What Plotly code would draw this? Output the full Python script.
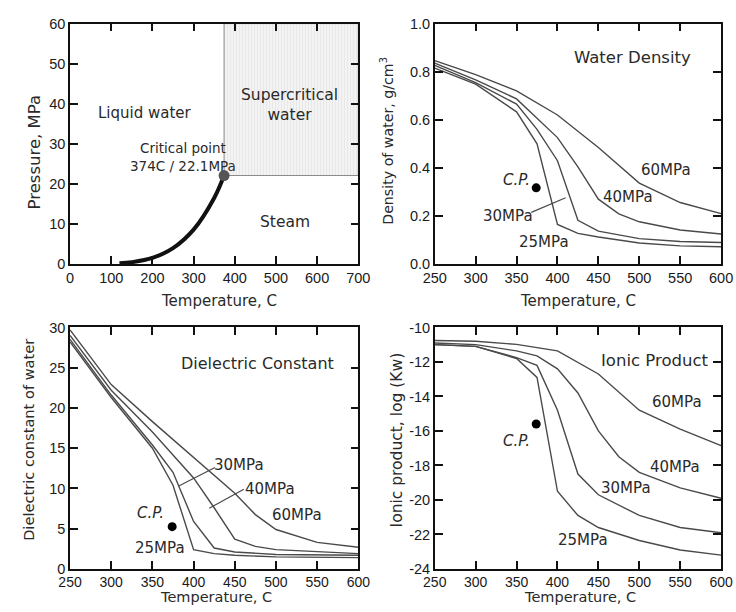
import plotly.graph_objects as go

# ---------------- data ----------------
# Phase diagram: saturation curve
sat_T = [120, 150, 200, 250, 300, 350, 374]
sat_P = [0.2, 0.48, 1.55, 3.98, 8.6, 16.5, 22.1]
CP_T, CP_P = 374, 22.1
T_MAX, P_MAX = 700, 60

# Water density (g/cm3)
dens_T = {
    "25MPa": [250, 300, 350, 375, 400, 425, 450, 500, 550, 600],
    "30MPa": [250, 300, 350, 375, 400, 425, 450, 500, 550, 600],
    "40MPa": [250, 300, 350, 400, 425, 450, 475, 500, 550, 600],
    "60MPa": [250, 300, 350, 400, 450, 500, 550, 600],
}
dens_V = {
    "25MPa": [0.815, 0.748, 0.633, 0.50, 0.165, 0.128, 0.113, 0.088, 0.076, 0.072],
    "30MPa": [0.826, 0.755, 0.665, 0.56, 0.43, 0.182, 0.137, 0.106, 0.094, 0.090],
    "40MPa": [0.836, 0.766, 0.687, 0.526, 0.404, 0.27, 0.209, 0.176, 0.142, 0.125],
    "60MPa": [0.846, 0.788, 0.72, 0.62, 0.485, 0.337, 0.256, 0.21],
}
dens_CP = (374, 0.317)

# Dielectric constant
diel_T = {
    "25MPa": [250, 300, 350, 375, 400, 425, 450, 500, 600],
    "30MPa": [250, 300, 350, 375, 400, 425, 450, 500, 600],
    "40MPa": [250, 300, 350, 375, 400, 425, 450, 475, 500, 600],
    "60MPa": [250, 300, 350, 400, 450, 475, 500, 550, 600],
}
diel_V = {
    "25MPa": [28.2, 21.3, 15.0, 10.4, 2.4, 1.9, 1.7, 1.5, 1.4],
    "30MPa": [28.5, 21.6, 15.4, 12.0, 5.9, 2.6, 2.1, 1.8, 1.7],
    "40MPa": [29.0, 22.2, 17.0, 14.2, 11.3, 7.6, 3.7, 2.8, 2.4, 1.9],
    "60MPa": [29.7, 22.9, 18.3, 13.8, 9.4, 6.75, 4.9, 3.3, 2.7],
}
diel_CP = (374, 5.25)

# Ionic product log(Kw)
ion_T = {
    "25MPa": [250, 300, 350, 375, 400, 425, 450, 500, 550, 600],
    "30MPa": [250, 300, 350, 375, 400, 425, 450, 500, 550, 600],
    "40MPa": [250, 300, 350, 375, 400, 425, 450, 475, 500, 550, 600],
    "60MPa": [250, 300, 350, 400, 450, 500, 550, 600],
}
ion_V = {
    "25MPa": [-11.0, -11.1, -11.8, -12.9, -19.5, -20.9, -21.6, -22.35, -22.9, -23.2],
    "30MPa": [-11.0, -11.1, -11.75, -12.2, -14.8, -18.5, -19.7, -20.9, -21.6, -21.9],
    "40MPa": [-10.9, -11.0, -11.36, -11.65, -12.4, -13.8, -16.0, -17.5, -18.4, -19.3, -19.9],
    "60MPa": [-10.76, -10.8, -10.98, -11.36, -12.7, -14.8, -15.9, -16.85],
}
ion_CP = (374, -15.6)

# tick labels
ion_tickvals = [-24, -22, -20, -18, -16, -14, -12, -10]
ion_ticktext = ["-24", "-22", "-20", "-18", "-16", "-14", "-12", "-10"]

TICKFONT = "Liberation Sans, Arial, sans-serif"
FONT = "DejaVu Sans, sans-serif"
TXT = "#2a2a2a"
LINE = "#4a4a4a"

fig = go.Figure()

# ---- panel 1: phase diagram ----
fig.add_trace(go.Scatter(
    x=[CP_T, T_MAX, T_MAX, CP_T, CP_T], y=[CP_P, CP_P, P_MAX, P_MAX, CP_P],
    mode="lines", fill="toself", line=dict(color="#8a8a8a", width=1),
    fillcolor="#f3f3f3",
    fillpattern=dict(shape="|", fgcolor="#d4d4d4", bgcolor="#f3f3f3", size=3, solidity=0.25),
    xaxis="x", yaxis="y", showlegend=False, hoverinfo="skip"))
fig.add_trace(go.Scatter(x=sat_T, y=sat_P, mode="lines", line=dict(color="#111", width=4, shape="spline"),
                         xaxis="x", yaxis="y", showlegend=False))
fig.add_trace(go.Scatter(x=[CP_T], y=[CP_P], mode="markers", marker=dict(color="#555", size=11),
                         xaxis="x", yaxis="y", showlegend=False))

# ---- panels 2-4 ----
for (Tdict, Vdict, cp, xa, ya) in [(dens_T, dens_V, dens_CP, "x2", "y2"),
                                   (diel_T, diel_V, diel_CP, "x3", "y3"),
                                   (ion_T, ion_V, ion_CP, "x4", "y4")]:
    for k in Tdict:
        fig.add_trace(go.Scatter(x=Tdict[k], y=Vdict[k], mode="lines", name=k,
                                 line=dict(color=LINE, width=1.4),
                                 xaxis=xa, yaxis=ya, showlegend=False))
    fig.add_trace(go.Scatter(x=[cp[0]], y=[cp[1]], mode="markers", marker=dict(color="#000", size=9),
                             xaxis=xa, yaxis=ya, showlegend=False))

def ax(domain, rng, dtick, anchor, fmt=None, fs=14.5):
    d = dict(domain=domain, range=rng, dtick=dtick, tick0=rng[0], anchor=anchor,
             showgrid=False, zeroline=False, showline=True, linecolor="#111", linewidth=1.5,
             mirror="ticks", ticks="inside", ticklen=8, tickwidth=1.5, tickcolor="#111",
             tickfont=dict(family=TICKFONT, size=fs, color="#1a1a1a"))
    if fmt:
        d["tickformat"] = fmt
    return d

XL = [60/736, 358/736]
XR = [437/736, 733/736]
YT = [1-263/612, 1-16/612]
YB = [1-576/612, 1-328/612]

y4 = ax(YB, [-24, -10], 2, "x4")
y4.update(tickmode="array", tickvals=ion_tickvals, ticktext=ion_ticktext)

fig.update_layout(
    width=736, height=612, margin=dict(l=0, r=0, t=0, b=0),
    paper_bgcolor="white", plot_bgcolor="white",
    font=dict(family=FONT, size=14, color=TXT),
    xaxis=ax(XL, [0, 700], 100, "y"),
    yaxis=ax(YT, [0, 60], 10, "x"),
    xaxis2=ax(XR, [250, 600], 50, "y2"),
    yaxis2=ax(YT, [0, 1.0], 0.2, "x2", ".1f"),
    xaxis3=ax(XL, [250, 600], 50, "y3", fs=14),
    yaxis3=ax(YB, [0, 30], 5, "x3"),
    xaxis4=ax(XR, [250, 600], 50, "y4", fs=14),
    yaxis4=y4,
)

ann = []
def t(x, y, s, xr, yr, italic=False, size=15):
    if italic:
        s = "<i>" + s + "</i>"
    ann.append(dict(x=x, y=y, xref=xr, yref=yr, text=s, showarrow=False,
                    font=dict(family=FONT, size=size, color=TXT)))

shapes = []
def leader(x0, y0, x1, y1, xr, yr):
    shapes.append(dict(type="line", x0=x0, y0=y0, x1=x1, y1=y1, xref=xr, yref=yr,
                       line=dict(color=LINE, width=1.2)))

# panel 1
t(183, 37.7, "Liquid water", "x", "y")
t(533, 39.6, "Supercritical<br>water", "x", "y", size=15.5)
t(275, 26.7, "Critical point<br>374C / 22.1MPa", "x", "y", size=13.5)
t(521, 10.4, "Steam", "x", "y", size=15.5)
# panel 2
t(492, 0.86, "Water Density", "x2", "y2", size=16.5)
t(350, 0.35, "C.P.", "x2", "y2", italic=True)
t(339, 0.20, "30MPa", "x2", "y2")
t(384, 0.09, "25MPa", "x2", "y2")
t(486, 0.28, "40MPa", "x2", "y2")
t(533, 0.39, "60MPa", "x2", "y2")
leader(410, 0.276, 368, 0.215, "x2", "y2")
# panel 3
t(478, 25.5, "Dielectric Constant", "x3", "y3", size=16)
t(348, 6.95, "C.P.", "x3", "y3", italic=True)
t(359, 2.6, "25MPa", "x3", "y3")
t(455, 12.9, "30MPa", "x3", "y3")
t(493, 9.9, "40MPa", "x3", "y3")
t(526, 6.75, "60MPa", "x3", "y3")
leader(382, 10.3, 426, 12.6, "x3", "y3")
leader(419, 7.55, 461, 9.9, "x3", "y3")
# panel 4
t(518, -11.9, "Ionic Product", "x4", "y4", size=16.5)
t(350, -16.6, "C.P.", "x4", "y4", italic=True)
t(431, -22.3, "25MPa", "x4", "y4")
t(484, -19.3, "30MPa", "x4", "y4")
t(544, -18.1, "40MPa", "x4", "y4")
t(546, -14.35, "60MPa", "x4", "y4")

# axis titles
def title(xp, yp, s, angle=0, size=15):
    ann.append(dict(x=xp/736, y=1-yp/612, xref="paper", yref="paper", text=s, showarrow=False,
                    textangle=angle, xanchor="center", yanchor="middle",
                    font=dict(family=FONT, size=size, color=TXT)))

title(214, 301, "Temperature, C")
title(585, 301, "Temperature, C")
title(211, 605, "Temperature, C", size=14.5)
title(587, 605, "Temperature, C", size=14.5)
title(23, 148, "Pressure, MPa", -90, size=16.5)
title(388, 136, "Density of water, g/cm<sup>3</sup>", -90, size=14.2)
title(17, 443, "Dielectric constant of water", -90, size=14.6)
title(398, 444, "Ionic product, log (Kw)", -90, size=15.5)

fig.update_layout(annotations=ann, shapes=shapes)
fig.write_html("out.html")
